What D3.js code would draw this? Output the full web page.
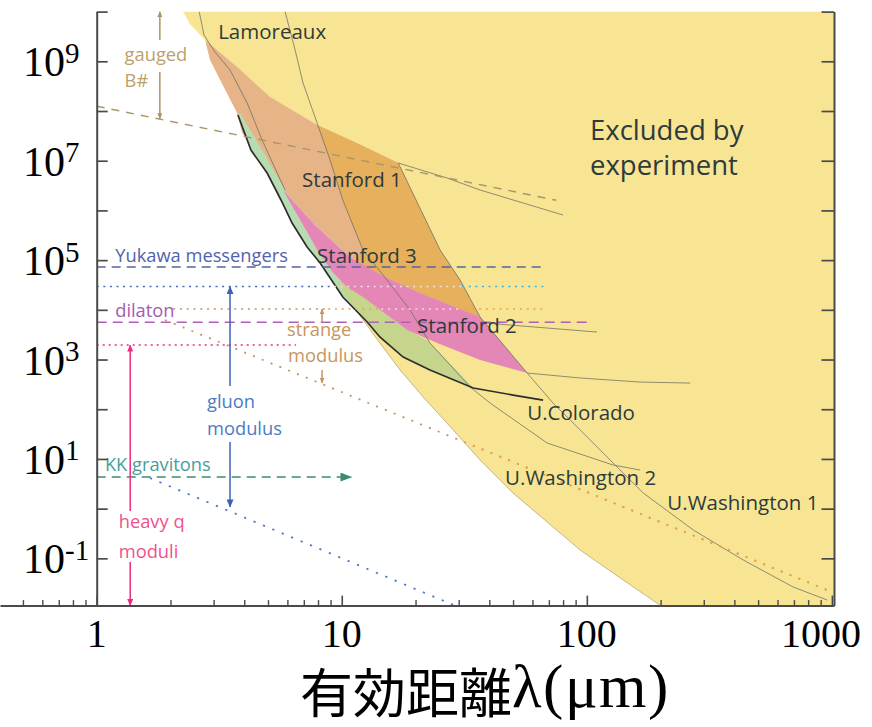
<!DOCTYPE html>
<html>
<head>
<meta charset="utf-8">
<script src="https://cdn.jsdelivr.net/npm/d3@7/dist/d3.min.js"></script>
<style>
  html, body { margin: 0; padding: 0; background: #fff; }
  svg { display: block; }
</style>
</head>
<body>
<svg id="chart" width="872" height="727"></svg>
<script>
// ---------- axis ticks ----------
const xMajorTicks = [1, 10, 100, 1000];
const xTickLabels = ["1", "10", "100", "1000"];
const xMinorTicks = [0.5, 0.6, 0.7, 0.8, 0.9, 2, 3, 4, 5, 6, 7, 8, 9,
                     20, 30, 40, 50, 60, 70, 80, 90, 200, 300, 400, 500, 600, 700, 800, 900];
const yTickValues = [1e-1, 1, 1e1, 1e2, 1e3, 1e4, 1e5, 1e6, 1e7, 1e8, 1e9, 1e10];
const yLabelValues = [1e9, 1e7, 1e5, 1e3, 1e1, 1e-1];
const yLabelExponents = ["9", "7", "5", "3", "1", "-1"];

// ---------- regions: [lambda (um), alpha] ----------
const excludedRegion = [[2.25, 1e10], [1020, 1e10], [1020, 0.0112], [200, 0.0112],
  [137, 0.0402], [93.9, 0.147], [64.5, 0.71], [50.0, 2.06], [36.7, 9.5], [28.5, 38.2],
  [21.5, 176], [17.3, 615], [14.3, 2150], [11.9, 7500], [10.3, 1.99e4], [9.66, 3.46e4],
  [12.2, 1.6e5], [10.1, 1.62e6], [8.96, 1.03e7], [7.93, 5.22e7], [5.10, 1.91e8],
  [3.74, 7.68e8], [2.77, 2.69e9], [2.40, 5.62e9]];
const excludedEdge = [[200, 0.0112], [137, 0.0402], [93.9, 0.147], [64.5, 0.71], [50.0, 2.06],
  [36.7, 9.5], [28.5, 38.2], [21.5, 176], [17.3, 615], [14.3, 2150], [11.9, 7500],
  [10.3, 1.99e4], [9.66, 3.46e4]];
const stanford1Region = [[2.77, 2.69e9], [3.74, 7.68e8], [5.10, 1.91e8], [7.93, 5.22e7],
  [11.5, 2.27e7], [17.0, 9.0e6], [25.2, 1.6e5], [30.4, 3.98e4], [36.7, 7160], [27.7, 1.25e4],
  [20.9, 2.18e4], [15.0, 4.57e4], [10.8, 1.15e5], [7.78, 5.08e5], [5.76, 2.57e6],
  [4.43, 1.64e7], [3.92, 3.61e7], [3.74, 9.12e7], [3.19, 4.21e8], [2.90, 1.06e9]];
const stanford23Region = [[5.76, 2.57e6], [7.78, 5.08e5], [10.8, 1.15e5], [15.0, 4.57e4],
  [20.9, 2.18e4], [27.7, 1.25e4], [36.7, 7160], [57.1, 535], [36.7, 977], [24.5, 2150],
  [18.5, 3930], [12.2, 1.81e4], [10.5, 2.88e4], [9.21, 5.50e4], [7.93, 1.6e5], [6.76, 6.41e5]];
const coloradoRegion = [[3.77, 8.32e7], [4.26, 1.64e7], [4.96, 5.66e6], [5.65, 1.62e6],
  [6.27, 5.57e5], [7.22, 1.84e5], [8.16, 8.75e4], [10.1, 1.81e4], [12.7, 5690], [14.3, 2840],
  [17.8, 1120], [22.9, 615], [34.4, 267], [22.3, 2470], [18.5, 3930], [12.2, 1.81e4],
  [10.5, 2.88e4], [9.21, 5.50e4], [7.93, 1.6e5], [6.76, 6.41e5], [5.87, 2.57e6],
  [4.73, 1.64e7], [3.85, 9.12e7]];

// ---------- limit curves ----------
const coloradoLine = [[3.77, 8.32e7], [4.26, 1.64e7], [4.96, 5.66e6], [5.65, 1.62e6],
  [6.27, 5.57e5], [7.22, 1.84e5], [8.16, 8.75e4], [10.1, 1.81e4], [12.7, 5690], [14.3, 2840],
  [17.8, 1120], [22.9, 615], [34.4, 267], [50.0, 193], [66.3, 153]];
const washington1Line = [[17.0, 9.0e6], [25.2, 1.6e5], [30.4, 3.98e4], [36.7, 7160],
  [57.1, 535], [72.8, 133], [94.0, 38.2], [128, 8.28], [170, 2.06], [272, 0.371],
  [435, 0.0925], [695, 0.0265], [957, 0.0145]];
const washington2Line = [[5.87, 1e10], [6.45, 1.69e9], [6.95, 3.66e8], [7.93, 5.74e7],
  [8.96, 1.03e7], [10.1, 1.62e6], [12.2, 1.6e5], [15.3, 3.98e4], [19.0, 9900], [22.9, 2150],
  [27.7, 774], [33.4, 280], [40.3, 133], [68.9, 20.9], [128, 7.54], [165, 5.98]];
const lamoreauxTail = [[17.0, 9.0e6], [26.9, 4.49e6], [36.7, 2.57e6], [80.0, 8.07e5]];
const earlyLimitLine = [[2.62, 1e10], [2.74, 3.38e9], [3.04, 1.54e9], [3.50, 6.68e8],
  [4.11, 1.45e8], [4.73, 2.61e7], [5.50, 5.15e6], [5.87, 2.57e6]];
const stanford2Tail = [[57.1, 535], [94.0, 425], [165, 352], [264, 336]];
const stanford2Line = [[38.5, 5420], [68.9, 4300], [110, 3570]];

// ---------- theory predictions ----------
const gaugedLine = [[1, 1.25e8], [75, 1.6e6]];
const strangeSlope = [[1.90, 6240], [957, 0.023]];
const gluonSlope = [[1.65, 4.13], [29.0, 0.0112]];
const yukawaLevel = 7.26e4, yukawaSpan = [1, 67.6];
const gluonLevel = 2.94e4, gluonBreaks = [1, 9.3, 31, 67.6];
const strangeLevel = 1.04e4, strangeBreaks = [2.05, 8.8, 14.5, 30, 67.6];
const dilatonLevel = 5600, dilatonSpan = [1, 103];
const heavyQLevel = 1960, heavyQSpan = [1, 6.51];
const kkLevel = 4.32, kkSpan = [1, 11.0];

// vertical arrows: lambda, upper segment [from, to], lower segment [from, to]
const gaugedArrow = { at: 1.81, upper: [1e10, 2.69e9], lower: [6.1e8, 7.0e7] };
const heavyQArrow = { at: 1.37, upper: [1960, 0.895], lower: [0.0843, 0.0112] };
const gluonArrow = { at: 3.50, upper: [2.94e4, 293], lower: [21.9, 1.08] };
const strangeArrow = { at: 8.31, upper: [5600, 1.04e4], lower: [615, 336] };

// ---------- labels ----------
const regionLabels = [
  ["Lamoreaux", 3.13, 2.81e9], ["Stanford 1", 6.89, 2.96e6], ["Stanford 3", 7.93, 8.75e4],
  ["Stanford 2", 20.3, 3410], ["U.Colorado", 57.1, 60.7], ["U.Washington 2", 46.4, 2.99],
  ["U.Washington 1", 213, 0.937]];
const excludedLabel = [["Excluded by", 103, 2.61e7], ["experiment", 103, 5.15e6]];
const theoryLabels = [
  ["gauged", 1.30, 1.01e9, "gauged"], ["B#", 1.30, 3.04e8, "gauged"],
  ["Yukawa messengers", 1.19, 9.16e4, "yukawa"], ["dilaton", 1.19, 7160, "dilaton"],
  ["strange", 5.98, 2970, "strange"], ["modulus", 6.04, 891, "strange"],
  ["gluon", 2.82, 106, "gluon"], ["modulus", 2.82, 30.3, "gluon"],
  ["KK gravitons", 1.08, 5.71, "kk"], ["heavy q", 1.23, 0.407, "heavyq"],
  ["moduli", 1.23, 0.101, "heavyq"]];

// ---------- drawing ----------
const colors = {
  yellow: "#f7e594", peach: "#e6b487", orange: "#e7b05d", pink: "#e486b6",
  mint: "#b6dcb2", olive: "#c6d58c", thin: "#6f6f62", dark: "#2d2d2d",
  gauged: "#a99568", gaugedText: "#bb9f6c", yukawa: "#55649f", yukawaText: "#5262ad",
  blue: "#4468c0", cyan: "#33b6e6", pale: "#f1dfe6", tan: "#c39560", orangeDot: "#f2a04e",
  dilaton: "#b05fb5", dilatonText: "#a55ab3", heavyq: "#ec2a86", heavyqText: "#f0508e",
  kk: "#3d8c72", kkText: "#4a9e9a", gluonText: "#4a7cc4", strangeText: "#c8955c",
  label: "#2f3a3a", axis: "#4a4a4a"
};

const svg = d3.select("#chart");
const x = d3.scaleLog().domain([1, 1020]).range([96.7, 834]);
const y = d3.scaleLog().domain([0.0112, 1e10]).range([605.6, 11.6]);
const line = d3.line().x(d => x(d[0])).y(d => y(d[1]));
const closed = pts => line(pts) + "Z";

const defs = svg.append("defs");
defs.append("clipPath").attr("id", "plotArea").append("rect")
  .attr("x", x(1)).attr("y", y(1e10))
  .attr("width", x(1020) - x(1)).attr("height", y(0.0112) - y(1e10));
defs.append("clipPath").attr("id", "inExcluded").append("path").attr("d", closed(excludedRegion));

function marker(id, color, len, half) {
  defs.append("marker").attr("id", id)
    .attr("viewBox", `0 0 ${len} ${half * 2}`)
    .attr("refX", len - 0.5).attr("refY", half)
    .attr("markerWidth", len).attr("markerHeight", half * 2)
    .attr("markerUnits", "userSpaceOnUse")
    .attr("orient", "auto-start-reverse")
    .append("path").attr("d", `M0,0L${len},${half}L0,${half * 2}Z`).attr("fill", color);
}
marker("arGauged", colors.gauged, 6, 2.5);
marker("arHeavy", colors.heavyq, 7, 3);
marker("arGluon", "#4060b4", 8, 3.5);
marker("arStrange", colors.tan, 6, 2.5);
marker("arKK", colors.kk, 12, 4.5);

const plot = svg.append("g").attr("clip-path", "url(#plotArea)");

// excluded region and its lower boundary
plot.append("path").attr("d", closed(excludedRegion)).attr("fill", colors.yellow);
plot.append("path").attr("d", line(excludedEdge)).attr("fill", "none")
  .attr("stroke", "#bfb17e").attr("stroke-width", 0.9);

// Stanford 1 / Lamoreaux band: lighter where it lies outside the excluded area
plot.append("path").attr("d", closed(stanford1Region)).attr("fill", colors.peach);
plot.append("g").attr("clip-path", "url(#inExcluded)")
  .append("path").attr("d", closed(stanford1Region)).attr("fill", colors.orange);

// U.Colorado band
plot.append("path").attr("d", closed(coloradoRegion)).attr("fill", colors.mint);
plot.append("g").attr("clip-path", "url(#inExcluded)")
  .append("path").attr("d", closed(coloradoRegion)).attr("fill", colors.olive);

// Stanford 2/3 band
plot.append("path").attr("d", closed(stanford23Region)).attr("fill", colors.pink);

// thin limit curves
[washington1Line, washington2Line, lamoreauxTail, earlyLimitLine, stanford2Tail, stanford2Line]
  .forEach(pts => plot.append("path").attr("d", line(pts)).attr("fill", "none")
    .attr("stroke", colors.thin).attr("stroke-width", 0.9).attr("stroke-opacity", 0.85));
plot.append("path").attr("d", line(coloradoLine)).attr("fill", "none")
  .attr("stroke", colors.dark).attr("stroke-width", 1.7);

// theory prediction guides
function guide(pts, color, dash, width, extra) {
  const p = plot.append("path").attr("d", line(pts)).attr("fill", "none")
    .attr("stroke", color).attr("stroke-width", width || 1.4)
    .attr("stroke-dasharray", dash);
  if (extra) extra(p);
  return p;
}
guide(gaugedLine, colors.gauged, "8,7", 1.4);
guide([[yukawaSpan[0], yukawaLevel], [yukawaSpan[1], yukawaLevel]], colors.yukawa, "9,6", 1.5);
const gluonColors = [colors.blue, colors.pale, colors.cyan];
for (let i = 0; i < gluonBreaks.length - 1; i++)
  guide([[gluonBreaks[i], gluonLevel], [gluonBreaks[i + 1], gluonLevel]], gluonColors[i], "2,4.6", 1.6);
const strangeColors = [colors.tan, colors.orangeDot, colors.pale, colors.orangeDot];
for (let i = 0; i < strangeBreaks.length - 1; i++)
  guide([[strangeBreaks[i], strangeLevel], [strangeBreaks[i + 1], strangeLevel]], strangeColors[i], "2,4.8", 1.6);
guide([[dilatonSpan[0], dilatonLevel], [dilatonSpan[1], dilatonLevel]], colors.dilaton, "10,6", 1.5);
guide([[heavyQSpan[0], heavyQLevel], [heavyQSpan[1], heavyQLevel]], colors.heavyq, "2,4", 1.6);
guide([[kkSpan[0], kkLevel], [kkSpan[1], kkLevel]], colors.kk, "9,6", 1.4,
  p => p.attr("marker-end", "url(#arKK)"));

guide(strangeSlope, colors.tan, "2,7.5", 1.8);
plot.append("g").attr("clip-path", "url(#inExcluded)")
  .append("path").attr("d", line(strangeSlope)).attr("fill", "none")
  .attr("stroke", colors.orangeDot).attr("stroke-width", 1.8).attr("stroke-dasharray", "2,7.5");
guide(gluonSlope, "#4a7cc8", "2.2,8", 1.8);

// vertical arrows
function vArrow(a, color, markerId, startHead, endHead) {
  [[a.upper, startHead, false], [a.lower, false, endHead]].forEach(([seg, s, e]) => {
    const p = plot.append("path").attr("d", line([[a.at, seg[0]], [a.at, seg[1]]]))
      .attr("fill", "none").attr("stroke", color).attr("stroke-width", 1.5);
    if (s) p.attr("marker-start", `url(#${markerId})`);
    if (e) p.attr("marker-end", `url(#${markerId})`);
  });
}
vArrow(gaugedArrow, colors.gauged, "arGauged", true, true);
vArrow(heavyQArrow, colors.heavyq, "arHeavy", true, true);
vArrow(gluonArrow, "#4060b4", "arGluon", true, true);
// strange modulus: both short arrows point away from each other
plot.append("path").attr("d", line([[strangeArrow.at, strangeArrow.upper[0]], [strangeArrow.at, strangeArrow.upper[1]]]))
  .attr("stroke", colors.tan).attr("stroke-width", 1.5).attr("marker-end", "url(#arStrange)");
plot.append("path").attr("d", line([[strangeArrow.at, strangeArrow.lower[0]], [strangeArrow.at, strangeArrow.lower[1]]]))
  .attr("stroke", colors.tan).attr("stroke-width", 1.5).attr("marker-end", "url(#arStrange)");

// labels
const sans = "'Open Sans', 'Noto Sans', sans-serif";
svg.append("g").selectAll("text").data(regionLabels).join("text")
  .attr("x", d => x(d[1])).attr("y", d => y(d[2]))
  .attr("font-family", sans).attr("font-size", 20.5).attr("fill", colors.label)
  .text(d => d[0]);
svg.append("g").selectAll("text").data(excludedLabel).join("text")
  .attr("x", d => x(d[1])).attr("y", d => y(d[2]))
  .attr("font-family", sans).attr("font-size", 27.5).attr("fill", colors.label)
  .text(d => d[0]);
const theoryColor = { gauged: colors.gaugedText, yukawa: colors.yukawaText, dilaton: colors.dilatonText,
  strange: colors.strangeText, gluon: colors.gluonText, kk: colors.kkText, heavyq: colors.heavyqText };
svg.append("g").selectAll("text").data(theoryLabels).join("text")
  .attr("x", d => x(d[1])).attr("y", d => y(d[2]))
  .attr("font-family", sans).attr("font-size", 18.3).attr("fill", d => theoryColor[d[3]])
  .text(d => d[0]);

// ---------- axes ----------
const axes = svg.append("g").attr("color", colors.axis);
const xExt = x.copy().domain([x.invert(0), 1020]).range([0, x(1020)]);
const bottom = axes.append("g").attr("transform", `translate(0,${y(0.0112)})`)
  .call(d3.axisBottom(xExt).tickValues(xMajorTicks).tickSize(-10).tickSizeOuter(0).tickFormat(""));
bottom.select(".domain").attr("stroke-width", 2);
bottom.selectAll(".tick line").attr("stroke-width", 1.6);
const bottomMinor = axes.append("g").attr("transform", `translate(0,${y(0.0112)})`)
  .call(d3.axisBottom(xExt).tickValues(xMinorTicks).tickSize(-5.5).tickSizeOuter(0).tickFormat(""));
bottomMinor.select(".domain").remove();
bottomMinor.selectAll(".tick line").attr("stroke-width", 1.4);

const left = axes.append("g").attr("transform", `translate(${x(1)},0)`)
  .call(d3.axisLeft(y).tickValues(yTickValues).tickSize(-11).tickSizeOuter(0).tickFormat(""));
left.select(".domain").attr("stroke-width", 2);
left.selectAll(".tick line").attr("stroke-width", 1.7);
const right = axes.append("g").attr("transform", `translate(${x(1020)},0)`)
  .call(d3.axisRight(y).tickValues(yTickValues).tickSize(-12.5).tickSizeOuter(0).tickFormat(""));
right.select(".domain").attr("stroke-width", 2);
right.selectAll(".tick line").attr("stroke-width", 1.7);

const serif = "'Liberation Serif', 'Times New Roman', serif";
const yLabels = svg.append("g").selectAll("text").data(yLabelValues).join("text")
  .attr("x", 23).attr("y", d => y(d) + 15)
  .attr("font-family", serif).attr("font-size", 42).attr("fill", "#000");
yLabels.append("tspan").text("10");
yLabels.append("tspan").attr("font-size", 29).attr("dy", -13.5)
  .text((d, i) => yLabelExponents[i]);

svg.append("g").selectAll("text").data(xMajorTicks).join("text")
  .attr("x", (d, i) => x(d) + (i === 3 ? -11 : 0)).attr("y", 647)
  .attr("text-anchor", "middle")
  .attr("font-family", serif).attr("font-size", 40).attr("fill", "#000")
  .text((d, i) => xTickLabels[i]);

const title = svg.append("text").attr("x", 300).attr("y", 713).attr("fill", "#000");
title.append("tspan").attr("font-family", "'Noto Sans CJK JP', sans-serif").attr("font-size", 53)
  .text("有効距離");
title.append("tspan").attr("font-family", serif).attr("font-size", 61).attr("dy", -6)
  .attr("letter-spacing", 1.5)
  .text("λ(μm)");
</script>
</body>
</html>
